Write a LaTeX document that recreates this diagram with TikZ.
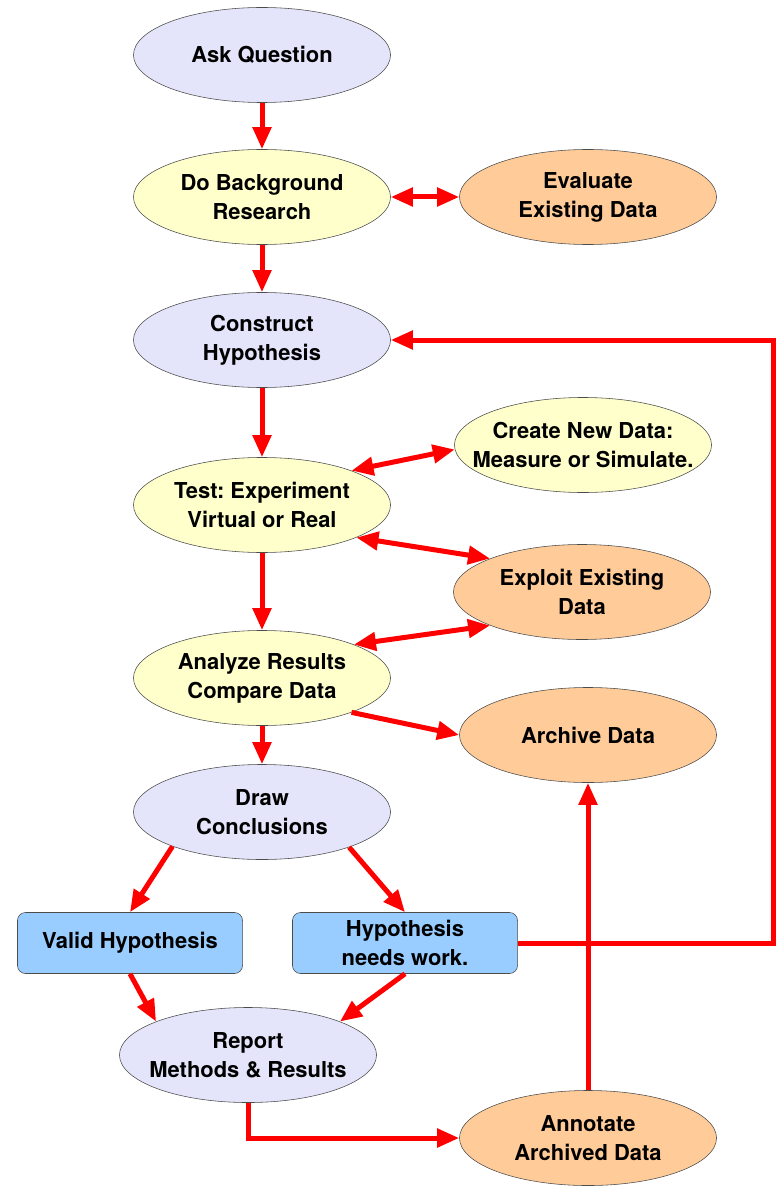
\documentclass[tikz,border=0pt]{standalone}
\usepackage{fontspec}
\setmainfont{TeX Gyre Heros}
\usetikzlibrary{positioning,shapes.geometric,arrows.meta}
\definecolor{ovallilac}{HTML}{E4E4FA}
\definecolor{ovalyellow}{HTML}{FFFFCC}
\definecolor{ovalpeach}{HTML}{FFCC99}
\definecolor{boxblue}{HTML}{99CCFF}
\frenchspacing

\begin{document}
\begin{tikzpicture}[x=0.025cm, y=-0.025cm]
    \tikzset{oval/.style={draw=gray!60!black, thin, shape=ellipse, minimum width=6.425cm,
                 minimum height=2.375cm, inner xsep=-1cm, align=center,
                 font=\bfseries\fontsize{15.6}{20.6}\selectfont},
             lilac/.style={oval, fill=ovallilac},
             yellow/.style={oval, fill=ovalyellow},
             peach/.style={oval, fill=ovalpeach},
             result/.style={draw=gray!60!black, thin, fill=boxblue, rounded corners=0.2cm,
                 minimum width=5.625cm, minimum height=1.525cm, align=center,
                 font=\bfseries\fontsize{15.6}{20.6}\selectfont},
             link/.style={draw=red, line width=0.125cm,
                 -{Triangle[length=0.55cm, width=0.45cm]}},
             twoway/.style={link, {Triangle[length=0.55cm, width=0.45cm]}-{Triangle[length=0.55cm, width=0.45cm]}}}
    \useasboundingbox (0,0) rectangle (779,1188);
    % main column
    \node[lilac] (ask) at (262, 55) {Ask Question};
    \node[yellow] (research) at (262, 197) {Do Background\\Research};
    \node[lilac] (construct) at (262, 340) {Construct\\Hypothesis};
    \node[yellow] (test) at (262, 505) {Test: Experiment\\Virtual or Real};
    \node[yellow] (analyze) at (262, 678) {Analyze Results\\Compare Data};
    \node[lilac] (conclude) at (262, 812) {Draw\\Conclusions};
    \node[result] (valid) at (130, 943) {Valid Hypothesis};
    \node[result] (rework) at (405, 943) {Hypothesis\\needs work.};
    \node[lilac] (report) at (248, 1055) {Report\\Methods \& Results};
    % data column
    \node[peach] (evaluate) at (588, 197) {Evaluate\\Existing Data};
    \node[yellow] (create) at (583, 445) {Create New Data:\\Measure or Simulate.};
    \node[peach] (exploit) at (582, 592) {Exploit Existing\\Data};
    \node[peach] (archive) at (588, 735) {Archive Data};
    \node[peach] (annotate) at (588, 1138) {Annotate\\Archived Data};
    \coordinate (corner) at (773, 943);

    \path[every edge/.style={link}]
        (ask) edge (research)
        (research) edge (construct)
        (construct) edge (test)
        (test) edge (analyze)
        (analyze) edge (conclude)
        (analyze.-21) edge (archive.west)
        (conclude.201) edge (valid.north)
        (conclude.-22) edge (rework.north)
        (valid.south) edge (report.160)
        (rework.south) edge (report.20)
        (annotate.north) edge (archive.south);
    \path[every edge/.style={twoway}]
        (research) edge (evaluate)
        (test.21) edge (create.182)
        (test.-19) edge (exploit.160)
        (analyze.20) edge (exploit.200);
    \draw[link] (report.south) |- (annotate.west);
    \draw[link] (rework.east) -- (corner) |- (construct.east);
\end{tikzpicture}
\end{document}
